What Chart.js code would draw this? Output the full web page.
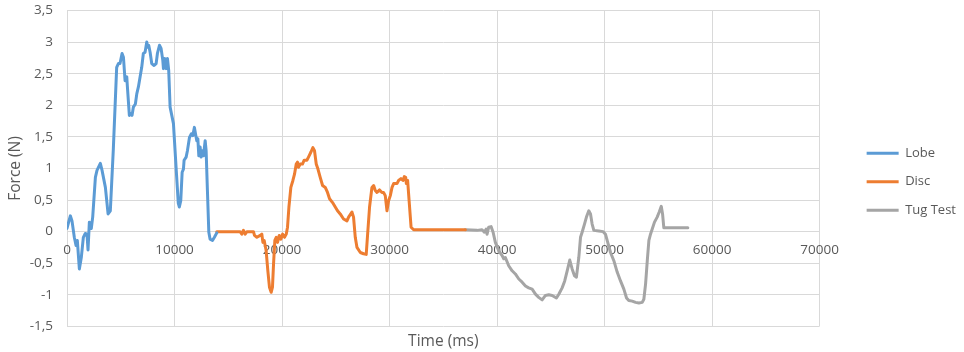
<!DOCTYPE html>
<html>
<head>
<meta charset="utf-8">
<script src="https://cdn.jsdelivr.net/npm/chart.js@4"></script>
<style>
  html, body { margin: 0; padding: 0; background: #ffffff; }
  #chart-box { width: 964px; height: 352px; }
</style>
</head>
<body>
<div id="chart-box"><canvas id="force-chart"></canvas></div>
<script>
const seriesNames = ["Lobe", "Disc", "Tug Test"];

const lobeTime = [0, 310, 465, 680, 840, 960, 1150, 1330, 1520, 1700, 1860, 1955, 2080, 2260, 2390, 2640, 2790, 3100, 3260, 3570, 3820, 4030, 4310, 4620, 4780, 4930, 5120, 5250, 5400, 5560, 5610, 5800, 5930, 6050, 6170, 6360, 6490, 6640, 6800, 6950, 7100, 7260, 7420, 7510, 7600, 7730, 7880, 8100, 8290, 8410, 8600, 8750, 8910, 8970, 9090, 9220, 9340, 9460, 9590, 9900, 10150, 10350, 10450, 10580, 10710, 10830, 10890, 11080, 11200, 11390, 11570, 11700, 11850, 11950, 12070, 12170, 12260, 12380, 12470, 12600, 12690, 12850, 12940, 13060, 13190, 13310, 13530, 13710, 13930];
const lobeForce = [0.05, 0.25, 0.17, -0.09, -0.22, -0.14, -0.59, -0.41, -0.09, -0.03, -0.04, -0.29, 0.15, 0.05, 0.23, 0.86, 0.97, 1.08, 0.97, 0.7, 0.28, 0.33, 1.31, 2.6, 2.66, 2.66, 2.82, 2.76, 2.39, 2.45, 2.31, 1.84, 1.87, 1.84, 1.97, 2.02, 2.18, 2.29, 2.45, 2.6, 2.82, 2.84, 3.0, 2.92, 2.95, 2.84, 2.66, 2.63, 2.66, 2.82, 2.95, 2.9, 2.71, 2.58, 2.74, 2.58, 2.74, 2.55, 1.97, 1.71, 1.0, 0.45, 0.39, 0.49, 0.94, 0.99, 1.13, 1.18, 1.28, 1.49, 1.55, 1.52, 1.65, 1.55, 1.44, 1.47, 1.2, 1.34, 1.18, 1.28, 1.2, 1.44, 1.28, 0.65, -0.01, -0.12, -0.14, -0.09, -0.02];

const discTime = [13930, 16100, 16260, 16410, 16570, 16730, 17340, 17440, 17660, 17970, 18120, 18220, 18340, 18520, 18680, 18830, 18990, 19110, 19210, 19330, 19460, 19580, 19740, 19890, 20050, 20230, 20390, 20510, 20640, 20820, 21010, 21160, 21320, 21440, 21530, 21690, 21900, 22060, 22310, 22460, 22690, 22870, 23020, 23180, 23340, 23550, 23770, 24020, 24230, 24420, 24700, 24950, 25160, 25410, 25720, 26040, 26190, 26500, 26650, 26810, 26970, 27280, 27580, 27830, 27960, 28140, 28360, 28520, 28670, 28830, 29070, 29290, 29440, 29600, 29760, 29910, 30070, 30230, 30380, 30690, 30840, 31060, 31250, 31370, 31500, 31560, 31680, 31840, 32000, 32240, 37050];
const discForce = [0, 0, -0.04, 0.02, -0.04, 0, 0, -0.06, -0.09, -0.06, -0.04, -0.17, -0.14, -0.3, -0.62, -0.88, -0.96, -0.88, -0.51, -0.14, -0.09, -0.17, -0.06, -0.12, -0.04, -0.09, -0.04, 0.07, 0.39, 0.7, 0.81, 0.91, 1.07, 1.1, 1.02, 1.07, 1.07, 1.13, 1.13, 1.18, 1.26, 1.33, 1.28, 1.07, 0.99, 0.86, 0.73, 0.7, 0.62, 0.52, 0.46, 0.39, 0.33, 0.28, 0.2, 0.17, 0.23, 0.31, 0.23, -0.09, -0.25, -0.33, -0.35, -0.36, -0.04, 0.39, 0.7, 0.73, 0.65, 0.62, 0.66, 0.62, 0.62, 0.57, 0.33, 0.49, 0.57, 0.7, 0.76, 0.76, 0.81, 0.84, 0.81, 0.87, 0.86, 0.76, 0.81, 0.44, 0.07, 0.03, 0.03];

const tugTime = [37050, 38140, 38600, 38820, 38980, 39070, 39220, 39440, 39630, 39840, 40150, 40470, 40620, 40770, 41080, 41400, 41700, 42020, 42330, 42640, 42940, 43260, 43570, 43870, 44190, 44500, 44810, 45120, 45520, 45740, 46050, 46290, 46520, 46760, 46980, 47200, 47380, 47600, 47760, 47910, 48130, 48310, 48530, 48690, 48840, 49000, 49460, 49870, 50080, 50290, 50550, 50860, 51170, 51480, 51790, 52040, 52250, 52570, 52880, 53190, 53500, 53650, 53810, 53970, 54120, 54270, 54430, 54640, 54890, 55080, 55270, 55390, 55510, 56130, 57740];
const tugForce = [0.03, 0.02, 0.03, -0.01, 0.04, -0.04, 0.07, 0.08, -0.01, -0.17, -0.3, -0.38, -0.43, -0.41, -0.54, -0.62, -0.67, -0.75, -0.8, -0.86, -0.89, -0.91, -0.99, -1.04, -1.08, -1.01, -1.0, -1.01, -1.05, -0.99, -0.89, -0.78, -0.62, -0.45, -0.59, -0.7, -0.72, -0.41, -0.09, -0.01, 0.12, 0.23, 0.33, 0.28, 0.12, 0.02, 0.01, 0, -0.04, -0.17, -0.33, -0.46, -0.64, -0.78, -0.91, -1.05, -1.09, -1.1, -1.12, -1.13, -1.12, -1.07, -0.83, -0.46, -0.14, -0.04, 0.04, 0.15, 0.23, 0.31, 0.4, 0.28, 0.06, 0.06, 0.06];

const timeTicks = [0, 10000, 20000, 30000, 40000, 50000, 60000, 70000];
const forceTicks = [-1.5, -1, -0.5, 0, 0.5, 1, 1.5, 2, 2.5, 3, 3.5];

const seriesColors = ["#5b9bd5", "#ed7d31", "#a5a5a5"];
const textColor = "#595959";
const gridColor = "#d9d9d9";
const fontFamily = "'Open Sans', sans-serif";

function toPoints(times, forces) {
  return times.map((t, i) => ({ x: t, y: forces[i] }));
}

function createChart() {
  const canvas = document.getElementById("force-chart");

  const allSeries = [
    toPoints(lobeTime, lobeForce),
    toPoints(discTime, discForce),
    toPoints(tugTime, tugForce),
  ];

  const data = {
    datasets: allSeries.map((points, i) => ({
      label: seriesNames[i],
      data: points,
      borderColor: seriesColors[i],
      backgroundColor: seriesColors[i],
      borderWidth: 3,
      pointRadius: 0,
      pointHoverRadius: 0,
      showLine: true,
      tension: 0,
      borderJoinStyle: "round",
      borderCapStyle: "round",
    })),
  };

  const config = {
    type: "scatter",
    data: data,
    options: {
      responsive: true,
      maintainAspectRatio: false,
      animation: false,
      events: [],
      layout: {
        padding: { top: 10.5, right: -2, bottom: -1, left: 0 },
      },
      plugins: {
        tooltip: { enabled: false },
        legend: {
          position: "right",
          align: "center",
          labels: {
            color: textColor,
            font: { family: fontFamily, size: 13 },
            usePointStyle: true,
            pointStyle: "line",
            pointStyleWidth: 32,
            boxWidth: 32,
            padding: 15.5,
          },
        },
      },
      scales: {
        x: {
          type: "linear",
          position: "bottom",
          min: timeTicks[0],
          max: timeTicks[timeTicks.length - 1],
          afterBuildTicks: (axis) => {
            axis.ticks = timeTicks.map((v) => ({ value: v }));
          },
          ticks: { display: false },
          grid: { color: gridColor, drawTicks: false },
          border: { display: false },
          title: {
            display: true,
            text: "Time (ms)",
            color: textColor,
            font: { family: fontFamily, size: 15.5 },
            padding: { top: 6, bottom: 2 },
          },
        },
        xZero: {
          type: "linear",
          axis: "x",
          position: { y: 0 },
          min: timeTicks[0],
          max: timeTicks[timeTicks.length - 1],
          afterBuildTicks: (axis) => {
            axis.ticks = timeTicks.map((v) => ({ value: v }));
          },
          ticks: {
            color: textColor,
            font: { family: fontFamily, size: 13.5 },
            padding: 10,
            maxRotation: 0,
            autoSkip: false,
            callback: (value) => String(value),
          },
          grid: { display: false, drawTicks: false },
          border: { display: false },
        },
        y: {
          type: "linear",
          position: "left",
          min: forceTicks[0],
          max: forceTicks[forceTicks.length - 1],
          afterBuildTicks: (axis) => {
            axis.ticks = forceTicks.map((v) => ({ value: v }));
          },
          afterFit: (axis) => {
            axis.width = 67;
            axis.paddingTop = 0;
            axis.paddingBottom = 0;
          },
          ticks: {
            color: textColor,
            font: { family: fontFamily, size: 13.5 },
            padding: 14,
            callback: (value) => String(value).replace(".", ","),
          },
          grid: { color: gridColor, drawTicks: false },
          border: { display: false },
          title: {
            display: true,
            text: "Force (N)",
            color: textColor,
            font: { family: fontFamily, size: 15.5 },
            padding: { top: 6, bottom: 0 },
          },
        },
        gap: {
          type: "linear",
          axis: "y",
          position: "right",
          afterFit: (axis) => {
            axis.width = 31.5;
            axis.paddingTop = 0;
            axis.paddingBottom = 0;
          },
          ticks: { display: false },
          grid: { display: false, drawTicks: false },
          border: { display: false },
        },
      },
    },
  };

  new Chart(canvas, config);
}

createChart();
</script>
</body>
</html>
